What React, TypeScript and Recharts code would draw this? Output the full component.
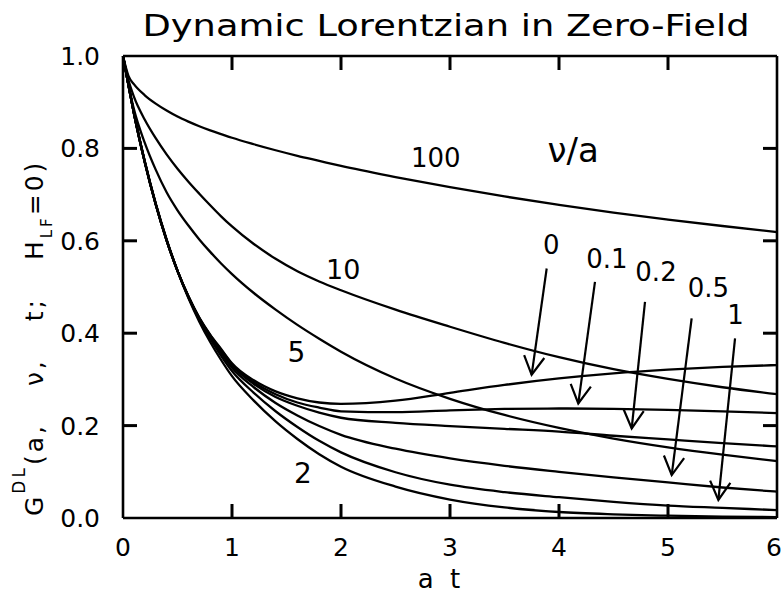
import { LineChart, Line, XAxis, YAxis, ReferenceLine, ReferenceDot } from "recharts"

const FONT = '"DejaVu Sans", sans-serif'

// a·t sample points
const AT = [0, 0.05, 0.1, 0.2, 0.3, 0.4, 0.5, 0.6, 0.7, 0.8, 0.9, 1.0, 1.2, 1.4, 1.6, 1.8, 2.0, 2.5, 3.0, 3.5, 4.0, 4.5, 5.0, 5.5, 6.0]

// G(t) for each hopping rate ν/a
const G_NU_0 = [1, 0.937, 0.876, 0.770, 0.679, 0.601, 0.535, 0.480, 0.434, 0.397, 0.366, 0.335, 0.298, 0.274, 0.259, 0.250, 0.247, 0.254, 0.271, 0.288, 0.302, 0.313, 0.321, 0.327, 0.331]
const G_NU_01 = [1, 0.937, 0.876, 0.770, 0.679, 0.601, 0.535, 0.480, 0.433, 0.396, 0.364, 0.333, 0.294, 0.268, 0.250, 0.239, 0.231, 0.229, 0.233, 0.236, 0.237, 0.236, 0.234, 0.231, 0.227]
const G_NU_02 = [1, 0.937, 0.876, 0.770, 0.679, 0.601, 0.535, 0.479, 0.432, 0.394, 0.361, 0.330, 0.290, 0.262, 0.243, 0.228, 0.217, 0.206, 0.199, 0.193, 0.187, 0.178, 0.170, 0.162, 0.155]
const G_NU_05 = [1, 0.937, 0.876, 0.770, 0.679, 0.601, 0.535, 0.479, 0.431, 0.391, 0.357, 0.325, 0.283, 0.249, 0.222, 0.199, 0.180, 0.150, 0.129, 0.113, 0.100, 0.088, 0.077, 0.066, 0.057]
const G_NU_1 = [1, 0.937, 0.877, 0.771, 0.680, 0.602, 0.535, 0.478, 0.429, 0.388, 0.351, 0.318, 0.271, 0.231, 0.197, 0.167, 0.142, 0.099, 0.072, 0.056, 0.045, 0.035, 0.027, 0.022, 0.017]
const G_NU_2 = [1, 0.937, 0.877, 0.772, 0.681, 0.603, 0.535, 0.476, 0.425, 0.381, 0.342, 0.307, 0.254, 0.209, 0.171, 0.138, 0.111, 0.068, 0.040, 0.023, 0.013, 0.008, 0.005, 0.003, 0.002]
const G_NU_5 = [1, 0.938, 0.885, 0.812, 0.754, 0.705, 0.666, 0.633, 0.603, 0.576, 0.551, 0.528, 0.487, 0.451, 0.418, 0.388, 0.360, 0.302, 0.258, 0.223, 0.195, 0.172, 0.153, 0.137, 0.123]
const G_NU_10 = [1, 0.948, 0.912, 0.862, 0.822, 0.787, 0.756, 0.728, 0.702, 0.677, 0.653, 0.631, 0.593, 0.561, 0.534, 0.512, 0.493, 0.451, 0.414, 0.379, 0.348, 0.322, 0.301, 0.283, 0.268]
const G_NU_100 = [1, 0.957, 0.939, 0.915, 0.897, 0.882, 0.869, 0.858, 0.848, 0.839, 0.831, 0.823, 0.809, 0.796, 0.784, 0.773, 0.762, 0.738, 0.716, 0.696, 0.678, 0.661, 0.646, 0.632, 0.619]

const X_TICKS = [0, 1, 2, 3, 4, 5, 6]
const Y_TICKS = [0, 0.2, 0.4, 0.6, 0.8, 1.0]
// inner tick stubs (corners are covered by the frame)
const X_STUBS = [1, 2, 3, 4, 5]
const Y_STUBS = [0.2, 0.4, 0.6, 0.8]

const SERIES: { key: string; values: number[] }[] = [
  { key: "nu0", values: G_NU_0 },
  { key: "nu01", values: G_NU_01 },
  { key: "nu02", values: G_NU_02 },
  { key: "nu05", values: G_NU_05 },
  { key: "nu1", values: G_NU_1 },
  { key: "nu2", values: G_NU_2 },
  { key: "nu5", values: G_NU_5 },
  { key: "nu10", values: G_NU_10 },
  { key: "nu100", values: G_NU_100 },
]

const data = AT.map((t, i) => {
  const row: Record<string, number> = { t }
  SERIES.forEach((s) => (row[s.key] = s.values[i]))
  return row
})

// curve annotations, in (a·t, G) units
const CURVE_LABELS = [
  { text: "100", at: 2.87, g: 0.779, size: 26 },
  { text: "ν/a", at: 4.13, g: 0.797, size: 34 },
  { text: "10", at: 2.02, g: 0.539, size: 27 },
  { text: "5", at: 1.59, g: 0.359, size: 28 },
  { text: "2", at: 1.65, g: 0.097, size: 28 },
  { text: "0", at: 3.93, g: 0.591, size: 26 },
  { text: "0.1", at: 4.44, g: 0.561, size: 26 },
  { text: "0.2", at: 4.89, g: 0.532, size: 26 },
  { text: "0.5", at: 5.37, g: 0.498, size: 26 },
  { text: "1", at: 5.62, g: 0.439, size: 26 },
]

const ARROWS = [
  { from: [3.887, 0.54], to: [3.749, 0.31] },
  { from: [4.33, 0.511], to: [4.177, 0.248] },
  { from: [4.789, 0.468], to: [4.667, 0.194] },
  { from: [5.217, 0.432], to: [5.034, 0.093] },
  { from: [5.615, 0.389], to: [5.462, 0.039] },
]

const TICK_LEN = 14
const INK = "#000"

const ArrowShape = (p: any) => {
  const { x1, y1, x2, y2 } = p
  const dx = x2 - x1
  const dy = y2 - y1
  const len = Math.hypot(dx, dy) || 1
  const bx = -dx / len
  const by = -dy / len
  const L = 21
  const a = (29 * Math.PI) / 180
  const c = Math.cos(a)
  const s = Math.sin(a)
  const h1 = [x2 + L * (bx * c - by * s), y2 + L * (bx * s + by * c)]
  const h2 = [x2 + L * (bx * c + by * s), y2 + L * (-bx * s + by * c)]
  return (
    <g stroke={INK} strokeWidth={2.2} fill="none">
      <line x1={x1} y1={y1} x2={x2} y2={y2} />
      <polyline points={`${h1[0]},${h1[1]} ${x2},${y2} ${h2[0]},${h2[1]}`} />
    </g>
  )
}

// a frame-to-frame segment drawn only as inward stubs at its two ends
const StubShape = (p: any) => {
  const { x1, y1, x2, y2 } = p
  const dx = x2 - x1
  const dy = y2 - y1
  const len = Math.hypot(dx, dy) || 1
  const ux = (dx / len) * TICK_LEN
  const uy = (dy / len) * TICK_LEN
  return (
    <g>
      <path d={`M${x1},${y1}L${x1 + ux},${y1 + uy}`} stroke={INK} strokeWidth={3} fill="none" />
      <path d={`M${x2},${y2}L${x2 - ux},${y2 - uy}`} stroke={INK} strokeWidth={3} fill="none" />
    </g>
  )
}

const BottomTick = ({ x, y, payload }: any) => (
  <text x={payload.value === 6 ? x - 3 : x} y={y + 38} textAnchor="middle" fontFamily={FONT} fontSize={25} fill={INK}>
    {payload.value}
  </text>
)

const LeftTick = ({ x, y, payload }: any) => (
  <text x={x - 23} y={y + 9} textAnchor="end" fontFamily={FONT} fontSize={25} fill={INK}>
    {Number(payload.value).toFixed(1)}
  </text>
)

const ChartTitle = () => (
  <text x={446} y={36} textAnchor="middle" fontFamily={FONT} fontSize={30} fill={INK} textLength={607} lengthAdjust="spacingAndGlyphs">
    Dynamic Lorentzian in Zero-Field
  </text>
)

const XTitle = () => (
  <text x={439} y={588} textAnchor="middle" fontFamily={FONT} fontSize={26} fill={INK} wordSpacing={8}>
    a t
  </text>
)

const YTitle = () => (
  <text transform="translate(43,516) rotate(-90)" fontFamily={FONT} fontSize={25} fill={INK} letterSpacing={3} wordSpacing={26}>
    G
    <tspan fontSize={17} dy={-18}>DL</tspan>
    <tspan dy={18}>(a, ν, t; H</tspan>
    <tspan fontSize={15} dy={9}>LF</tspan>
    <tspan dy={-9}>=0)</tspan>
  </text>
)

const axisLine = { stroke: INK, strokeWidth: 2.6 }

export default function App() {
  return (
    <div style={{ position: "fixed", left: 0, top: 0, background: "#fff" }}>
      <LineChart width={783} height={606} data={data} margin={{ top: 55, right: 5, bottom: 48, left: 63 }}>
        <XAxis
          xAxisId="b"
          dataKey="t"
          type="number"
          domain={[0, 6]}
          ticks={X_TICKS}
          interval={0}
          height={40}
          tickSize={0}
          tickMargin={0}
          axisLine={axisLine}
          tickLine={false}
          tick={<BottomTick />}
          label={{ content: () => <XTitle /> }}
        />
        <XAxis
          xAxisId="t"
          orientation="top"
          dataKey="t"
          type="number"
          domain={[0, 6]}
          ticks={X_TICKS}
          interval={0}
          height={1}
          axisLine={axisLine}
          tickLine={false}
          tick={false}
          label={{ content: () => <ChartTitle /> }}
        />
        <YAxis
          yAxisId="l"
          type="number"
          domain={[0, 1]}
          ticks={Y_TICKS}
          interval={0}
          width={60}
          tickSize={0}
          tickMargin={0}
          axisLine={axisLine}
          tickLine={false}
          tick={<LeftTick />}
          label={{ content: () => <YTitle /> }}
        />
        <YAxis
          yAxisId="r"
          orientation="right"
          type="number"
          domain={[0, 1]}
          ticks={Y_TICKS}
          interval={0}
          width={1}
          axisLine={axisLine}
          tickLine={false}
          tick={false}
        />
        {X_STUBS.map((t) => (
          <ReferenceLine
            key={`xs-${t}`}
            xAxisId="b"
            yAxisId="l"
            segment={[
              { x: t, y: 0 },
              { x: t, y: 1 },
            ]}
            shape={StubShape}
            ifOverflow="visible"
          />
        ))}
        {Y_STUBS.map((g) => (
          <ReferenceLine
            key={`ys-${g}`}
            xAxisId="b"
            yAxisId="l"
            segment={[
              { x: 0, y: g },
              { x: 6, y: g },
            ]}
            shape={StubShape}
            ifOverflow="visible"
          />
        ))}
        {SERIES.map((s) => (
          <Line
            key={s.key}
            xAxisId="b"
            yAxisId="l"
            dataKey={s.key}
            type="monotone"
            stroke={INK}
            strokeWidth={2.3}
            dot={false}
            activeDot={false}
            isAnimationActive={false}
          />
        ))}
        {ARROWS.map((a, i) => (
          <ReferenceLine
            key={`arrow-${i}`}
            xAxisId="b"
            yAxisId="l"
            segment={[
              { x: a.from[0], y: a.from[1] },
              { x: a.to[0], y: a.to[1] },
            ]}
            shape={ArrowShape}
            ifOverflow="visible"
          />
        ))}
        {CURVE_LABELS.map((l) => (
          <ReferenceDot
            key={l.text}
            xAxisId="b"
            yAxisId="l"
            x={l.at}
            y={l.g}
            r={0}
            fill="none"
            stroke="none"
            ifOverflow="visible"
            label={{ value: l.text, position: "center", fontSize: l.size, fill: INK, fontFamily: FONT }}
          />
        ))}
      </LineChart>
    </div>
  )
}
